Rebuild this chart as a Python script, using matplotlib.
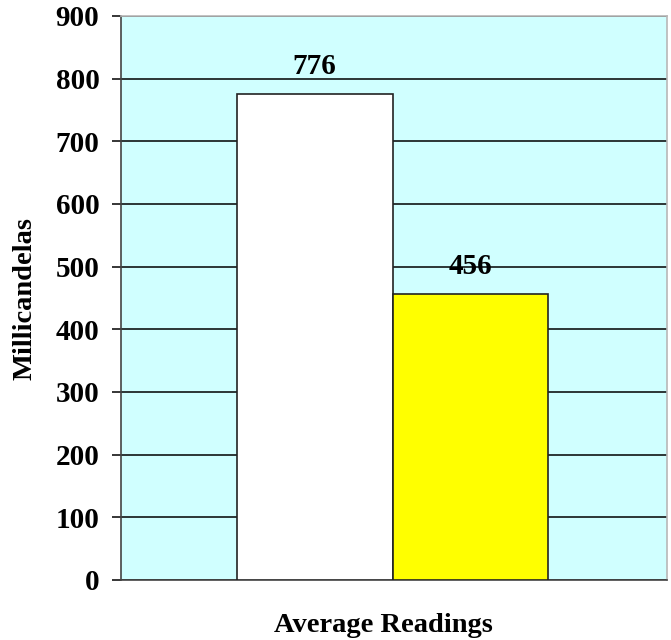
import matplotlib.pyplot as plt

# values
categories = ["White", "Yellow"]
readings = [776, 456]
bar_colors = ["white", "#ffff00"]
yticks = [0, 100, 200, 300, 400, 500, 600, 700, 800, 900]

plt.rcParams['font.family'] = ['Liberation Serif', 'DejaVu Serif']
plt.rcParams['font.weight'] = 'bold'

fig = plt.figure(figsize=(6.71, 6.4), dpi=100)
ax = fig.add_axes([0.1803, 0.09375, 0.8137, 0.88125])
ax.set_facecolor("#d0ffff")

xpos = list(range(len(categories)))
bars = ax.bar(xpos, readings, width=1.0, color=bar_colors,
              edgecolor="#222222", linewidth=1.2, zorder=3)
for x, v in zip(xpos, readings):
    ax.text(x, v + 22, str(v), ha="center", va="bottom",
            fontsize=21, fontweight="bold", zorder=4)

ax.set_xlim(-1.246, 2.265)
ax.set_ylim(0, 900)
ax.set_yticks(yticks)
ax.set_xticks([])
ax.yaxis.grid(True, color="black", linewidth=1.1)
ax.set_axisbelow(True)
ax.tick_params(axis="y", length=6.5, width=1.1, pad=9, labelsize=21, colors="black")

for s in ["top", "right"]:
    ax.spines[s].set_color("#b8b8b8")
    ax.spines[s].set_linewidth(1.2)
for s in ["left", "bottom"]:
    ax.spines[s].set_color("#444444")
    ax.spines[s].set_linewidth(1.2)

ax.set_ylabel("Millicandelas", fontsize=20.5, fontweight="bold")
ax.yaxis.set_label_coords(-0.152, 0.5)
ax.set_xlabel("Average Readings", fontsize=20.5, fontweight="bold")
ax.xaxis.set_label_coords(0.48, -0.058, )
ax.xaxis.label.set_va("top")

fig.savefig("out.png", dpi=100)
